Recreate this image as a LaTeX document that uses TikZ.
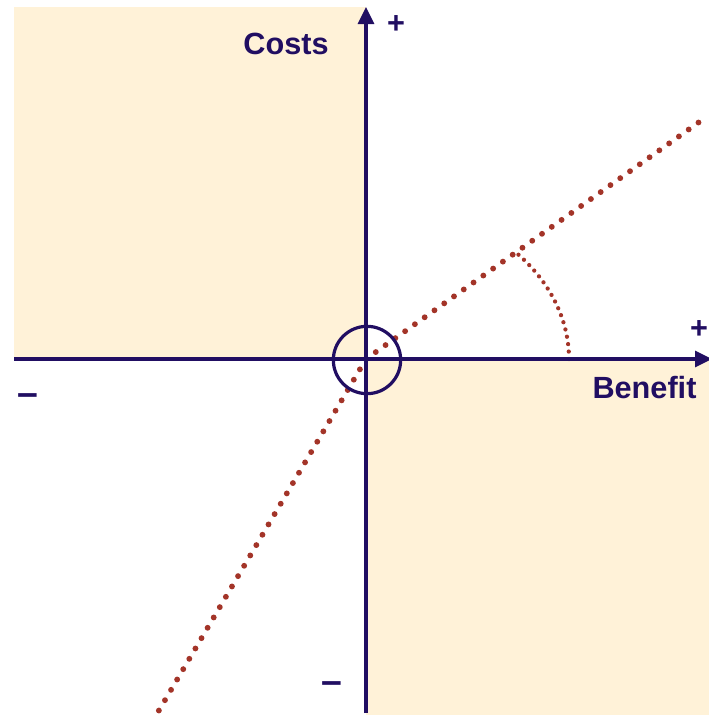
\documentclass[tikz,border=0pt]{standalone}
\usepackage{fontspec}
\setmainfont{Liberation Sans}
\usetikzlibrary{arrows.meta}
\definecolor{navy}{RGB}{33,14,98}
\definecolor{cream}{RGB}{255,242,216}
\definecolor{dotred}{RGB}{163,52,40}
\tikzset{
  axisline/.style={navy, line width=2.4pt, -{Triangle[length=12.75pt, width=12pt]}},
  shade/.style={fill=cream, draw=none},
  dotline/.style={dotred, line width=4.4pt, line cap=round, dash pattern=on 0pt off 9pt},
  arcdots/.style={dotred, line width=3.2pt, line cap=round, dash pattern=on 0pt off 5.6pt},
  lbl/.style={text=navy, font=\fontsize{23}{27}\selectfont\bfseries, inner sep=0pt},
  minuslbl/.style={text=navy, font=\fontsize{28}{32}\selectfont\bfseries, inner sep=0pt, anchor=base},
}
\begin{document}
\begin{tikzpicture}[x=0.75pt,y=-0.75pt]
\useasboundingbox (0,0) rectangle (709,715);
% shaded quadrants
\fill[shade] (14,7) rectangle (366,359);
\fill[shade] (366,359) rectangle (709,715);
% coordinates
\coordinate (O) at (366,359);
\coordinate (Xs) at (14,359);
\coordinate (Xe) at (712,359);
\coordinate (Ys) at (366,713);
\coordinate (Ye) at (366,7);
\coordinate (U) at (702,120);
\coordinate (L) at (158,712);
\coordinate (A0) at (569,359);
% dotted lines
\draw[dotline] (O) -- (U);
\draw[dotline] (O) -- (L);
\draw[arcdots] (A0) arc[start angle=0, end angle=-41.5, x radius=203, y radius=158];
% axes
\draw[axisline] (Xs) -- (Xe);
\draw[axisline] (Ys) -- (Ye);
% circle
\node[draw=navy, line width=2.4pt, circle, minimum size=50.5pt, inner sep=0pt] (C) at (367,360) {};
% labels
\node[lbl] (costs) at (286,43.5) {Costs};
\node[lbl] (benefit) at (644.5,388) {Benefit};
\node[lbl] (py) at (396,24.5) {+};
\node[lbl] (px) at (699,330) {+};
\node[minuslbl] (mx) at (27.5,405.5) {–};
\node[minuslbl] (my) at (331.5,693.5) {–};
\end{tikzpicture}
\end{document}
